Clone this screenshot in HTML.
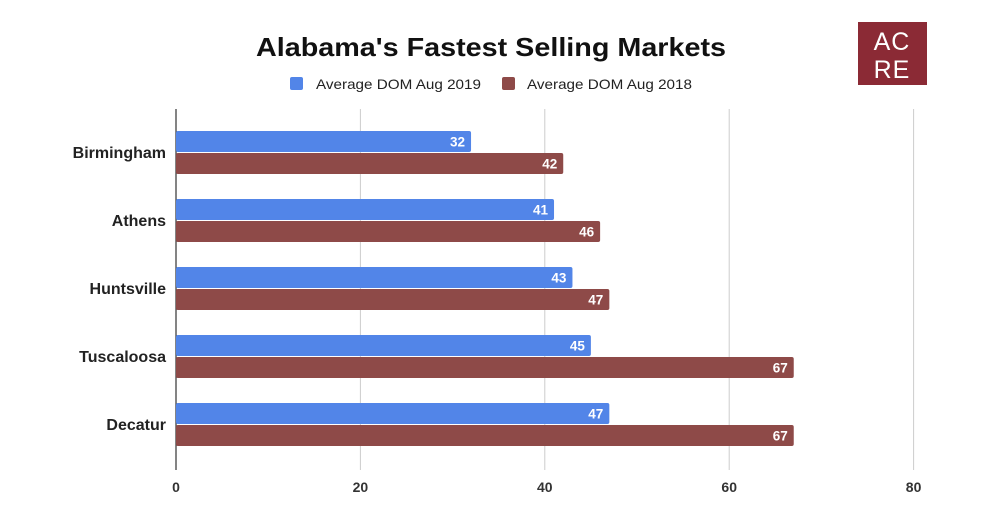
<!DOCTYPE html>
<html><head><meta charset="utf-8"><style>
body{margin:0;background:#fff;}
svg{display:block;font-family:"Liberation Sans",sans-serif;}
</style></head><body>
<svg id="chart" width="1000" height="517" viewBox="0 0 1000 517">
<text x="491" y="56" text-anchor="middle" font-size="26" font-weight="bold" fill="#111" textLength="470" lengthAdjust="spacingAndGlyphs">Alabama's Fastest Selling Markets</text>
<g>
<g><rect x="290" y="77" width="13" height="13" rx="2" fill="#5285e8"/><text x="316" y="89" font-size="14" fill="#222" textLength="165" lengthAdjust="spacingAndGlyphs">Average DOM Aug 2019</text></g>
<g><rect x="502" y="77" width="13" height="13" rx="2" fill="#8e4a48"/><text x="527" y="89" font-size="14" fill="#222" textLength="165" lengthAdjust="spacingAndGlyphs">Average DOM Aug 2018</text></g>
</g>
<g><rect x="858" y="22" width="69" height="63" fill="#8b2a35"/>
<text x="892" y="50" text-anchor="middle" font-size="25" fill="#fff" letter-spacing="1">AC</text>
<text x="892" y="78" text-anchor="middle" font-size="25" fill="#fff" letter-spacing="1">RE</text></g>
<g id="grid"></g><g id="bars"></g><g id="labels"></g>
</svg>
<script>
const categories=["Birmingham","Athens","Huntsville","Tuscaloosa","Decatur"];
const values2019=[32,41,43,45,47];
const values2018=[42,46,47,67,67];
const ticks=[0,20,40,60,80];
const NS="http://www.w3.org/2000/svg";
const x0=176,k=9.22,top0=131,step=68,bh=21;
const xs=v=>x0+v*k;
function mk(t,a,p){const e=document.createElementNS(NS,t);for(const n in a)e.setAttribute(n,a[n]);p.appendChild(e);return e;}
const grid=document.getElementById('grid'),bars=document.getElementById('bars'),labels=document.getElementById('labels');
ticks.forEach(t=>{
 const l=mk('line',{x1:xs(t),x2:xs(t),y1:109,y2:470,stroke:t==0?'#333':'#ccc','stroke-width':t==0?1.2:1},grid);
 
 
 const tx=mk('text',{x:xs(t),y:492,'text-anchor':'middle','font-size':14,'font-weight':'bold',fill:'#333'},labels);
 tx.textContent=t;
 
 
});
categories.forEach((c,i)=>{
 const y=top0+i*step;
 const cl=mk('text',{x:166,y:y+bh+6,'text-anchor':'end','font-size':16,'font-weight':'bold',fill:'#222'},labels);
 cl.textContent=c;
 
 
 [[values2019[i],'#5285e8',y],[values2018[i],'#8e4a48',y+bh+1]].forEach(([v,col,yy],j)=>{
  const r=mk('rect',{x:x0,y:yy,width:xs(v)-x0,height:bh,rx:2,fill:col},bars);
  
  
  const t=mk('text',{x:xs(v)-6,y:yy+15.5,'text-anchor':'end','font-size':13.5,'font-weight':'bold',fill:'#fff'},labels);
  t.textContent=v;
  
  
 });
});
</script>
</body></html>
